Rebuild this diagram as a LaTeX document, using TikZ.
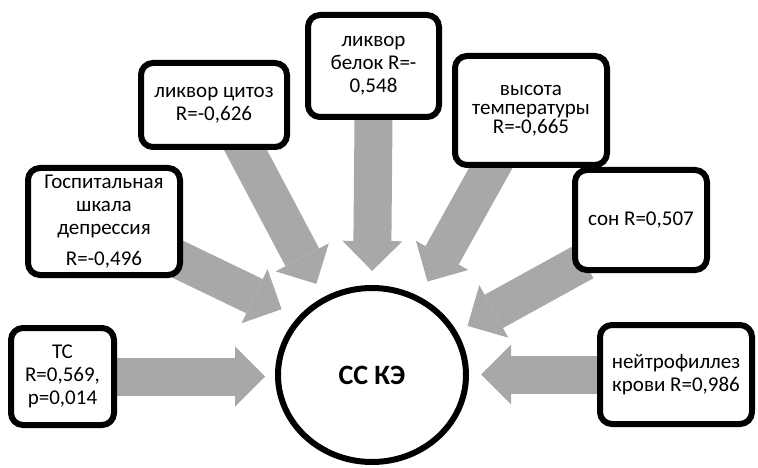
\documentclass[tikz,border=0pt]{standalone}
\usepackage{fontspec}
\setmainfont{Carlito}
\usepackage{tikz}
\usetikzlibrary{shapes.geometric,arrows.meta,backgrounds,shadows}
\definecolor{arrowgray}{RGB}{168,168,168}
\newcommand{\boxfont}{\fontsize{21}{23}\selectfont}

\begin{document}
\begin{tikzpicture}[x=1pt,y=-1pt,
  fbox/.style={draw,line width=6pt,rounded corners=12pt,fill=white,align=center,
    inner sep=2pt,font=\boxfont,drop shadow={shadow xshift=1pt,shadow yshift=-3pt,opacity=.2}},
  bigarrow/.style={color=arrowgray,line width=38pt,
    -{Triangle[width=60pt,length=30pt,line width=0pt]},shorten <=-14pt}]
\useasboundingbox (0,0) rectangle (758,468);
\node[draw,ellipse,line width=6pt,fill=white,minimum width=188pt,minimum height=174pt,
  font=\fontsize{28}{32}\selectfont\bfseries] (cc) at (372,375) {СС КЭ};
\node[fbox,minimum width=103pt,minimum height=97pt] (tc) at (62.5,376.5) {ТС\\R=0,569,\\p=0,014};
\node[fbox,minimum width=152pt,minimum height=107pt] (hs) at (104,221.5) {Госпитальная\\шкала\\депрессия\\[8pt]R=-0,496};
\node[fbox,minimum width=146pt,minimum height=84pt] (lc) at (214,105) {ликвор цитоз\\R=-0,626};
\node[fbox,minimum width=131pt,minimum height=102pt] (lb) at (373.5,66) {ликвор\\белок R=-\\0,548};
\node[fbox,minimum width=152pt,minimum height=109pt,font=\fontsize{21}{19}\selectfont] (vt) at (531,110.5) {высота\\температуры\\R=-0,665};
\node[fbox,minimum width=132pt,minimum height=100pt] (sn) at (641,220) {сон R=0,507};
\node[fbox,minimum width=152pt,minimum height=99pt] (nf) at (676,374.5) {нейтрофиллез\\крови R=0,986};
\begin{pgfonlayer}{background}
\path[bigarrow]
(tc.east) edge[shorten >=10pt] (tc.east -| cc.west)
(hs.-27) edge[shorten >=18pt] (cc.142)
(lc.-55) edge[shorten >=15pt] (cc.122)
(lb.south) edge[shorten >=14pt] (cc.north)
(vt.-125) edge[shorten >=17pt] (cc.59)
(sn.-145) edge[shorten >=12pt] (cc.27)
(nf.west) edge[shorten >=12pt] (nf.west -| cc.east);
\end{pgfonlayer}
\end{tikzpicture}
\end{document}
